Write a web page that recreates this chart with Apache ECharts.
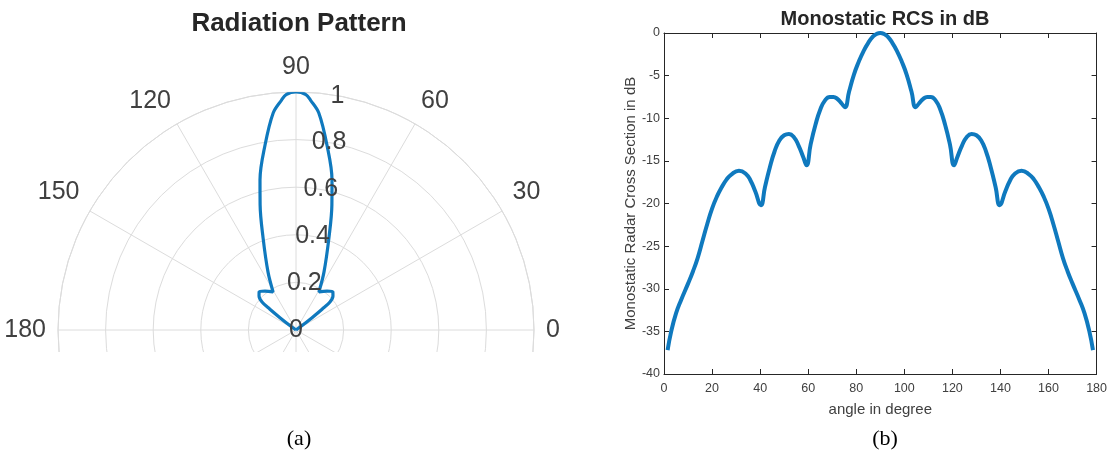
<!DOCTYPE html>
<html>
<head>
<meta charset="utf-8">
<script src="https://cdn.jsdelivr.net/npm/echarts@6/dist/echarts.min.js"></script>
<style>
  html, body { margin: 0; padding: 0; background: #ffffff; }
  #chart { width: 1110px; height: 455px; }
</style>
</head>
<body>
<div id="chart"></div>
<script>
// Radiation pattern (normalised gain) versus angle, degrees
const patternAngle = [0, 36, 37.5, 38.5, 39.5, 42.6, 46, 51.5, 59, 64.2, 70.3, 74, 76.5, 80.5, 84, 86.4, 87.6, 90,
  92.4, 93.6, 96, 99.5, 103.5, 106, 109.7, 115.8, 121, 128.5, 134, 137.4, 140.5, 141.5, 142.5, 144, 180];
const patternGain = [0, 0.03, 0.085, 0.14, 0.185, 0.211, 0.223, 0.209, 0.187, 0.27, 0.41, 0.547, 0.648, 0.788, 0.917, 0.968, 0.99, 1.0,
  0.99, 0.968, 0.917, 0.788, 0.648, 0.547, 0.41, 0.27, 0.187, 0.209, 0.223, 0.211, 0.185, 0.14, 0.085, 0.03, 0];

// Monostatic RCS (dB) versus aspect angle, degrees
const rcsAngle = [1.5, 3, 5, 7, 10, 12, 14, 16, 18, 20, 22, 24, 26, 28, 31.2, 34, 36, 38, 40.3,
  42, 44, 46, 48, 50, 52, 54, 56, 58, 59.3, 61, 63, 65, 67, 69, 70.5, 72, 74, 75.3,
  77, 79, 81, 83, 85, 87, 88.5, 90,
  91.5, 93, 95, 97, 99, 101, 103, 104.7, 106, 108, 109.5, 111, 113, 115, 117, 119, 120.7,
  122, 124, 126, 128, 130, 132, 134, 136, 138, 139.7, 142, 144, 146, 148.8,
  152, 154, 156, 158, 160, 162, 164, 166, 168, 170, 173, 175, 177, 178.5];
const rcsDb = [-37.2, -35.0, -32.9, -31.4, -29.4, -28.0, -26.4, -24.4, -22.4, -20.6, -19.2, -18.1, -17.2, -16.6, -16.15, -16.5, -17.3, -18.6, -20.2,
  -18.1, -15.8, -13.9, -12.6, -12.0, -11.85, -12.2, -13.2, -14.6, -15.5, -13.1, -10.8, -9.0, -7.9, -7.5, -7.5, -7.7, -8.3, -8.7,
  -6.9, -4.9, -3.4, -2.15, -1.15, -0.4, -0.1, 0,
  -0.1, -0.4, -1.15, -2.15, -3.4, -4.9, -6.9, -8.7, -8.3, -7.7, -7.5, -7.5, -7.9, -9.0, -10.8, -13.1, -15.5,
  -14.6, -13.2, -12.2, -11.85, -12.0, -12.6, -13.9, -15.8, -18.1, -20.2, -18.6, -17.3, -16.5, -16.15,
  -16.6, -17.2, -18.1, -19.2, -20.6, -22.4, -24.4, -26.4, -28.0, -29.4, -31.4, -32.9, -35.0, -37.2];

const sans = 'Liberation Sans, Arial, Helvetica, sans-serif';
const serif = 'Liberation Serif, Times New Roman, serif';
const lineBlue = '#0f79be';
const gridGray = '#dcdcdc';
const labelGray = '#404040';
const boxColor = '#262626';

const chart = echarts.init(document.getElementById('chart'), null, { renderer: 'canvas' });

const boxAxis = {
  axisLine: { show: true, onZero: false, lineStyle: { color: boxColor, width: 1 } },
  axisTick: { show: true, inside: true, length: 5, lineStyle: { color: boxColor } },
  splitLine: { show: false }
};

chart.setOption({
  animation: false,
  backgroundColor: '#ffffff',
  title: [
    { text: 'Radiation Pattern', left: 294, top: 6, textAlign: 'center',
      textStyle: { fontFamily: sans, fontSize: 26, fontWeight: 'bold', color: '#262626' } },
    { text: 'Monostatic RCS in dB', left: 880, top: 4, textAlign: 'center',
      textStyle: { fontFamily: sans, fontSize: 20, fontWeight: 'bold', color: '#262626' } },
    { text: '(a)', left: 294, top: 423, textAlign: 'center', z: 20,
      textStyle: { fontFamily: serif, fontSize: 22, fontWeight: 'normal', color: '#000000' } },
    { text: '(b)', left: 880, top: 423, textAlign: 'center', z: 20,
      textStyle: { fontFamily: serif, fontSize: 22, fontWeight: 'normal', color: '#000000' } }
  ],
  // the polar plot is cut off just below its 0-180 baseline
  graphic: [
    { type: 'rect', z: 15, silent: true,
      shape: { x: 0, y: 352, width: 600, height: 103 },
      style: { fill: '#ffffff' } }
  ],
  polar: [
    { center: [296, 330], radius: 238 },
    { center: [296, 330], radius: 238 }
  ],
  angleAxis: [
    { polarIndex: 0, type: 'value', min: 0, max: 360, interval: 30, startAngle: 0, clockwise: false,
      axisLine: { show: true, lineStyle: { color: gridGray, width: 1 } },
      axisTick: { show: false },
      splitLine: { show: true, lineStyle: { color: gridGray, width: 1 } },
      axisLabel: { show: true, margin: 12, fontFamily: sans, fontSize: 25, color: labelGray,
        formatter: v => (v <= 180 ? String(v) : '') } },
    // second angle axis only orients the radius labels along the 80 degree ray
    { polarIndex: 1, type: 'value', min: 0, max: 360, startAngle: 80, clockwise: false, show: false,
      axisLine: { show: false }, axisTick: { show: false }, axisLabel: { show: false }, splitLine: { show: false } }
  ],
  radiusAxis: [
    { polarIndex: 0, type: 'value', min: 0, max: 1, interval: 0.2,
      axisLine: { show: false }, axisTick: { show: false }, axisLabel: { show: false },
      splitLine: { show: true, lineStyle: { color: gridGray, width: 1 } } },
    { polarIndex: 1, type: 'value', min: 0, max: 1, interval: 0.2, z: 5,
      axisLine: { show: false }, axisTick: { show: false }, splitLine: { show: false },
      axisLabel: { show: true, margin: 0, align: 'center', verticalAlign: 'middle',
        fontFamily: sans, fontSize: 25, color: labelGray } }
  ],
  grid: { left: 664, right: 13, top: 33, bottom: 81, containLabel: false },
  xAxis: [
    Object.assign({ type: 'value', min: 0, max: 180, interval: 20, position: 'bottom',
      name: 'angle in degree', nameLocation: 'middle', nameGap: 28,
      nameTextStyle: { fontFamily: sans, fontSize: 15, color: labelGray },
      axisLabel: { margin: 8, fontFamily: sans, fontSize: 12.5, color: labelGray } }, boxAxis),
    Object.assign({ type: 'value', min: 0, max: 180, interval: 20, position: 'top',
      axisLabel: { show: false } }, boxAxis)
  ],
  yAxis: [
    Object.assign({ type: 'value', min: -40, max: 0, interval: 5, position: 'left',
      name: 'Monostatic Radar Cross Section in dB', nameLocation: 'middle', nameGap: 22, nameRotate: 90,
      nameTextStyle: { fontFamily: sans, fontSize: 15, color: labelGray },
      axisLabel: { margin: 4, fontFamily: sans, fontSize: 12.5, color: labelGray } }, boxAxis),
    Object.assign({ type: 'value', min: -40, max: 0, interval: 5, position: 'right',
      axisLabel: { show: false } }, boxAxis)
  ],
  series: [
    { type: 'line', coordinateSystem: 'polar', polarIndex: 0,
      data: patternAngle.map((a, i) => [patternGain[i], a]),
      showSymbol: false, smooth: 0.35, z: 3,
      lineStyle: { color: lineBlue, width: 3.2 } },
    { type: 'line', xAxisIndex: 0, yAxisIndex: 0,
      data: rcsAngle.map((a, i) => [a, rcsDb[i]]),
      showSymbol: false, smooth: 0.5, z: 3,
      lineStyle: { color: lineBlue, width: 4 } }
  ]
});
</script>
</body>
</html>
